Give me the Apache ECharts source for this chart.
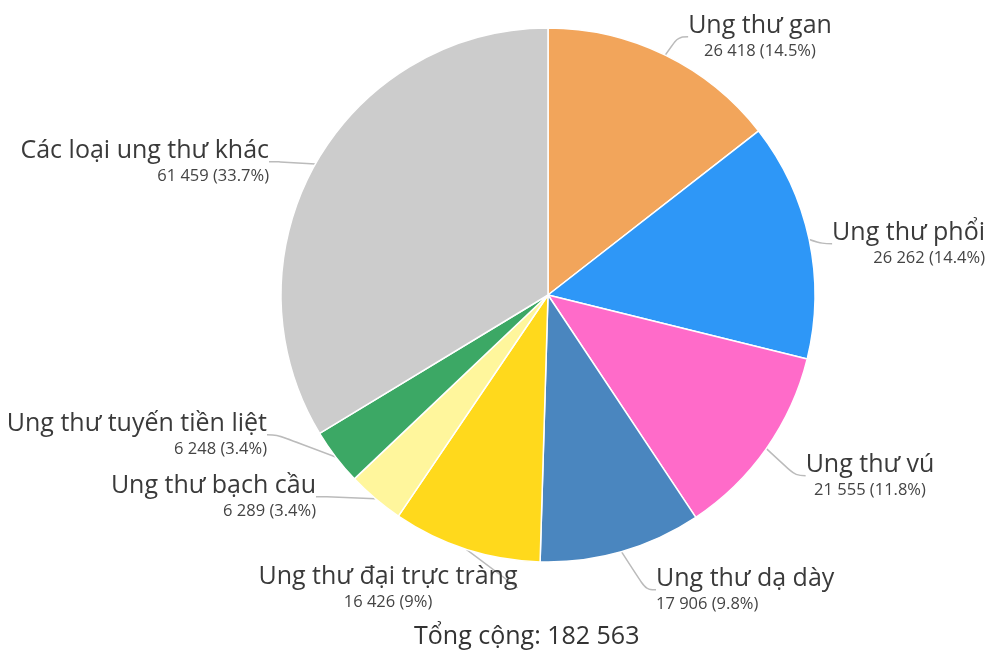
<!DOCTYPE html>
<html>
<head>
<meta charset="utf-8">
<script src="https://cdn.jsdelivr.net/npm/echarts@6/dist/echarts.min.js"></script>
<style>html,body{margin:0;padding:0;background:#fff}#c{width:989px;height:652px}</style>
</head>
<body>
<div id="c"></div>
<script>
const categories = ['Ung thư gan', 'Ung thư phổi', 'Ung thư vú', 'Ung thư dạ dày', 'Ung thư đại trực tràng', 'Ung thư bạch cầu', 'Ung thư tuyến tiền liệt', 'Các loại ung thư khác'];
const values = [26418, 26262, 21555, 17906, 16426, 6289, 6248, 61459];
const percents = ['14.5%', '14.4%', '11.8%', '9.8%', '9%', '3.4%', '3.4%', '33.7%'];
const totalLabel = 'Tổng cộng: ';

const colors = ['#F2A55B', '#2E97F7', '#FF6BC9', '#4A86BF', '#FFD91C', '#FFF69C', '#3CA865', '#CCCCCC'];
// label anchor positions [x, y(center), align]
const labelPos = [
  [760, 37, 'center'],
  [985, 244, 'right'],
  [870, 476, 'center'],
  [656, 590, 'left'],
  [388, 588, 'center'],
  [316, 497, 'right'],
  [267, 435, 'right'],
  [269, 162, 'right']
];

function fmt(n) { return String(n).replace(/\B(?=(\d{3})+(?!\d))/g, ' '); }
const total = values.reduce((a, b) => a + b, 0);

const chart = echarts.init(document.getElementById('c'), null, { renderer: 'canvas' });
chart.setOption({
  animation: false,
  color: colors,
  title: {
    text: totalLabel + fmt(total),
    left: 409,
    top: 619,
    textStyle: { fontFamily: 'Open Sans', fontSize: 25, fontWeight: 'normal', color: '#333' }
  },
  series: [{
    type: 'pie',
    center: [548, 295],
    radius: [0, 267],
    startAngle: 90,
    clockwise: true,
    itemStyle: { borderColor: '#fff', borderWidth: 1.5 },
    label: {
      show: true,
      position: 'outside',
      overflow: 'none',
      fontFamily: 'Open Sans',
      formatter: function (p) { return '{n|' + p.name + '}\n{v|' + fmt(p.value) + ' (' + percents[p.dataIndex] + ')}'; },
      rich: {
        n: { fontFamily: 'Open Sans', fontSize: 25, lineHeight: 29, color: '#3a3a3a' },
        v: { fontFamily: 'Open Sans', fontSize: 16.5, lineHeight: 22, color: '#444' }
      }
    },
    labelLine: { show: true, smooth: 0.4, length: 10, length2: 10, lineStyle: { color: '#bbbbbb', width: 1.5 } },
    labelLayout: function (p) {
      const lp = labelPos[p.dataIndex];
      return { x: lp[0], y: lp[1], align: lp[2], verticalAlign: 'middle' };
    },
    data: categories.map((c, i) => ({ name: c, value: values[i] }))
  }]
});
</script>
</body>
</html>
